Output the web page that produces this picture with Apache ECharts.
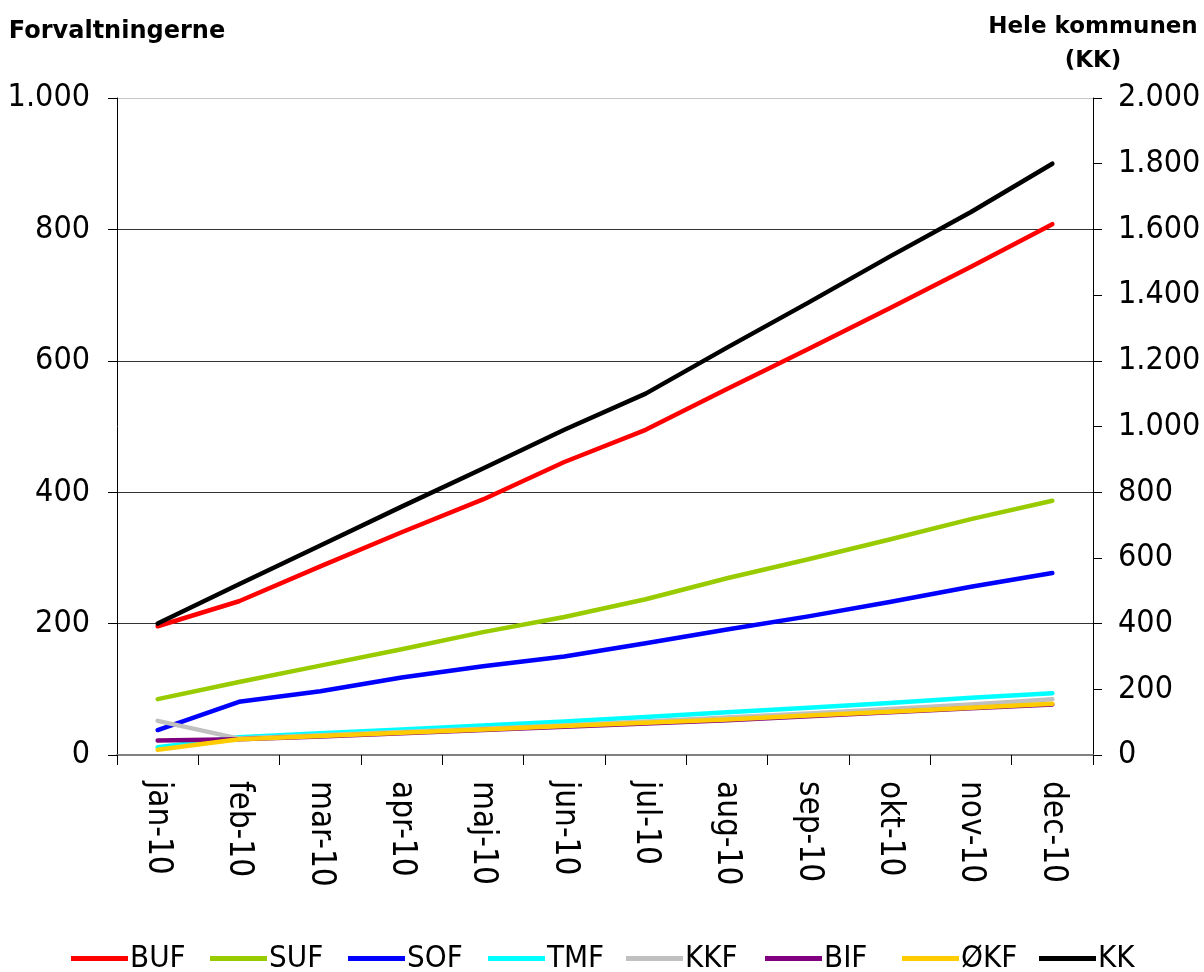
<!DOCTYPE html>
<html>
<head>
<meta charset="utf-8">
<script src="https://cdn.jsdelivr.net/npm/echarts@6/dist/echarts.min.js"></script>
<style>html,body{margin:0;padding:0;background:#fff}#c{width:1204px;height:972px}</style>
</head>
<body>
<div id="c"></div>
<script>
const categories = ['jan-10','feb-10','mar-10','apr-10','maj-10','jun-10','jul-10','aug-10','sep-10','okt-10','nov-10','dec-10'];
const BUF = [196, 234, 287, 339, 389, 446, 495, 557, 618, 680, 743, 808];
const SUF = [85, 111, 136, 161, 187, 210, 237, 269, 298, 328, 359, 387];
const SOF = [38, 81, 97, 118, 135, 150, 170, 191, 211, 233, 256, 277];
const TMF = [12, 27, 33, 39, 45, 51, 58, 65, 72, 79, 87, 94];
const KKF = [52, 25, 30, 35, 40, 45, 51, 57, 63, 70, 77, 85];
const BIF = [22, 24, 28, 33, 38, 43, 48, 53, 59, 65, 71, 77];
const OKF = [8, 24, 29, 34, 39, 44, 49, 54, 60, 66, 72, 78];
const KK  = [400, 520, 638, 756, 872, 990, 1100, 1240, 1377, 1517, 1653, 1800];
const seriesNames = ['BUF','SUF','SOF','TMF','KKF','BIF','ØKF','KK'];
const seriesData = [BUF, SUF, SOF, TMF, KKF, BIF, OKF, KK];
const colors = ['#ff0000','#99cc00','#0000ff','#00ffff','#c0c0c0','#800080','#ffcc00','#000000'];
const legendLeft = [66, 205, 343, 483, 621, 760, 897, 1034];

const FONT = "'DejaVu Sans Condensed', 'DejaVu Sans', sans-serif";
const fmt = v => String(v).replace(/\B(?=(\d{3})+(?!\d))/g, '.');

const chart = echarts.init(document.getElementById('c'));
chart.setOption({
  animation: false,
  backgroundColor: '#ffffff',
  grid: { left: 117, right: 111, top: 98, bottom: 217, containLabel: false },
  xAxis: {
    type: 'category',
    data: categories,
    boundaryGap: true,
    axisLine: { lineStyle: { color: '#808080', width: 2 } },
    axisTick: { show: true, length: 10, lineStyle: { color: '#000', width: 1 } },
    axisLabel: { rotate: -90, margin: 26, fontSize: 33, color: '#000', fontFamily: FONT, interval: 0 },
    splitLine: { show: false }
  },
  yAxis: [
    {
      type: 'value', min: 0, max: 1000, interval: 200, position: 'left',
      name: 'Forvaltningerne', nameLocation: 'end', nameGap: 54,
      nameTextStyle: { fontFamily: 'DejaVu Sans, sans-serif', fontWeight: 'bold', fontSize: 24, color: '#000', align: 'center' },
      axisLine: { show: true, lineStyle: { color: '#000', width: 1 } },
      axisTick: { show: true, length: 9, lineStyle: { color: '#000' } },
      axisLabel: { formatter: fmt, fontSize: 32, color: '#000', fontFamily: FONT, margin: 27 },
      splitLine: { show: true, lineStyle: { color: ['#808080','#333','#333','#333','#333','#c8c8c8'], width: 1 } }
    },
    {
      type: 'value', min: 0, max: 2000, interval: 200, position: 'right',
      name: 'Hele kommunen\n(KK)', nameLocation: 'end', nameGap: 20,
      nameTextStyle: { fontFamily: 'DejaVu Sans, sans-serif', fontWeight: 'bold', fontSize: 23, lineHeight: 34, color: '#000', align: 'center', padding: [0, 0, 0, 0] },
      axisLine: { show: true, lineStyle: { color: '#000', width: 1 } },
      axisTick: { show: true, length: 9, lineStyle: { color: '#000' } },
      axisLabel: { formatter: fmt, fontSize: 32, color: '#000', fontFamily: FONT, margin: 25 },
      splitLine: { show: false }
    }
  ],
  legend: seriesNames.map((n, i) => ({
    data: [n], left: legendLeft[i], top: 938, orient: 'horizontal',
    icon: 'rect', itemWidth: 57, itemHeight: 5, itemGap: 6,
    textStyle: { fontSize: 31, color: '#000', fontFamily: FONT, padding: [0, 0, 0, -3] }
  })),
  series: seriesNames.map((n, i) => ({
    name: n, type: 'line', data: seriesData[i],
    yAxisIndex: n === 'KK' ? 1 : 0,
    symbol: 'none', smooth: false,
    lineStyle: { color: colors[i], width: 4.5, cap: 'round', join: 'round' },
    itemStyle: { color: colors[i] },
    emphasis: { disabled: true }
  }))
});
</script>
</body>
</html>
